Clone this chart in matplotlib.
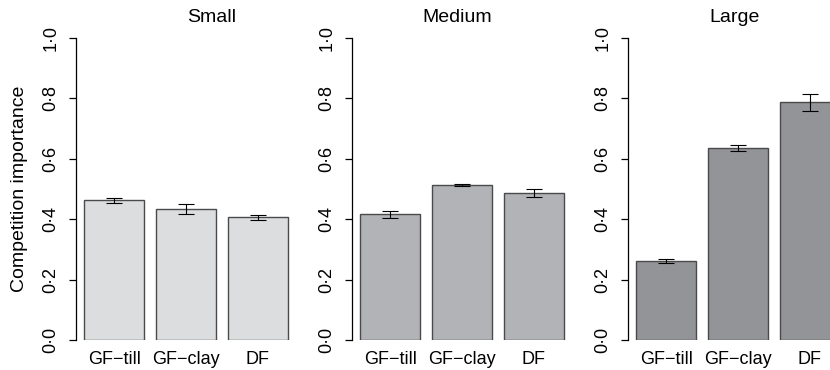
import numpy as np
import matplotlib
matplotlib.use("Agg")
import matplotlib.pyplot as plt

plt.rcParams['font.family'] = ['Liberation Sans', 'DejaVu Sans']

# data
categories = ["GF\u2212till", "GF\u2212clay", "DF"]
panel_titles = ["Small", "Medium", "Large"]
small_vals = [0.463, 0.434, 0.406]
small_err = [0.008, 0.017, 0.008]
medium_vals = [0.416, 0.513, 0.488]
medium_err = [0.011, 0.004, 0.013]
large_vals = [0.262, 0.636, 0.787]
large_err = [0.007, 0.010, 0.029]
yticks = [0.0, 0.2, 0.4, 0.6, 0.8, 1.0]
ytick_labels = ["0\u00b70", "0\u00b72", "0\u00b74", "0\u00b76", "0\u00b78", "1\u00b70"]

panel_values = [small_vals, medium_vals, large_vals]
panel_errors = [small_err, medium_err, large_err]
fill_colors = ["#dcdddf", "#b2b3b7", "#939498"]

W, H = 830, 370
fig = plt.figure(figsize=(W / 100, H / 100), dpi=100)

# R barplot layout: width 1, space 0.2
centers = 0.7 + 1.2 * np.arange(len(categories))
lefts_px = [76, 352, 628]
title_x_px = [212, 457, 735]

for i, (vals, errs) in enumerate(zip(panel_values, panel_errors)):
    ax = fig.add_axes([lefts_px[i] / W, 30 / H, 220 / W, 302 / H])
    ax.bar(centers, vals, width=1.0, color=fill_colors[i],
           edgecolor="#4a4a4a", linewidth=1.0)
    ax.errorbar(centers, vals, yerr=errs, fmt="none", ecolor="black",
                elinewidth=0.8, capsize=5.5, capthick=0.8)
    ax.set_xlim(0.064, 3.736)
    ax.set_ylim(0, 1)
    for side in ("top", "right", "bottom"):
        ax.spines[side].set_visible(False)
    ax.spines["left"].set_linewidth(0.9)
    ax.set_yticks(yticks)
    ax.set_yticklabels(ytick_labels, rotation=90, va="center", fontsize=13)
    ax.tick_params(axis="y", length=5, width=0.9, pad=7)
    ax.set_xticks(centers)
    ax.set_xticklabels(categories, fontsize=13)
    ax.tick_params(axis="x", length=0, pad=8)
    ax.patch.set_alpha(0)
    fig.text(title_x_px[i] / W, 1 - 18 / H, panel_titles[i],
             ha="center", va="center", fontsize=14)

fig.text(20 / W, 1 - 189 / H, "Competition importance", rotation=90,
         ha="center", va="center", fontsize=14)

fig.savefig("out.png", dpi=100)
